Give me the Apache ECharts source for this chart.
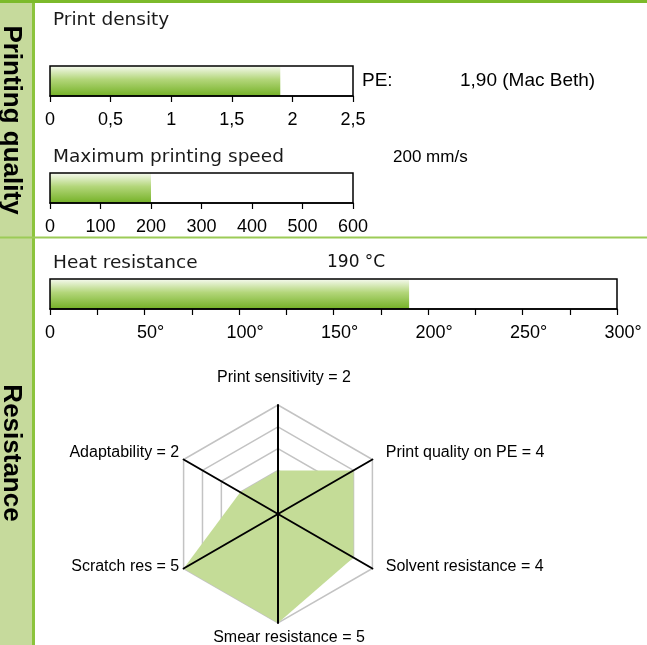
<!DOCTYPE html>
<html><head><meta charset="utf-8">
<script src="https://cdn.jsdelivr.net/npm/echarts@6/dist/echarts.min.js"></script>
<style>html,body{margin:0;padding:0;background:#fff}#c{width:647px;height:645px}</style>
</head><body><div id="c"></div>
<script>
// ---- data ----
const sectionLabels = ['Printing quality', 'Resistance'];
const barTitles = ['Print density', 'Maximum printing speed', 'Heat resistance'];
const barValues = [1.9, 200, 190];
const barMax = [2.5, 600, 300];
const barInterval = [0.5, 100, 25];
const barLabelStep = [0.5, 100, 50];
const barUnitSuffix = ['', '', '°'];
const densityPrefix = 'PE:';
const barNotes = ['1,90 (Mac Beth)', '200 mm/s', '190 °C'];
const radarCategories = ['Print sensitivity', 'Adaptability', 'Scratch res', 'Smear resistance', 'Solvent resistance', 'Print quality on PE'];
const radarValues = [2, 2, 5, 5, 4, 4];
const radarMax = 5;

// ---- layout ----
const gridBoxes = [
  {left: 50, top: 66, width: 303, height: 30},
  {left: 50, top: 173, width: 303, height: 30},
  {left: 50, top: 279, width: 567, height: 30}
];
const titleY = [20, 157, 263];
const green = '#8cc43c';
const labelFont = 'Liberation Sans, Arial, sans-serif';
const titleFont = 'DejaVu Sans, sans-serif';

const chart = echarts.init(document.getElementById('c'), null, {renderer: 'canvas'});

const barGradient = new echarts.graphic.LinearGradient(0, 0, 0, 1, [
  {offset: 0, color: '#f6faef'},
  {offset: 0.45, color: '#b3d67a'},
  {offset: 1, color: '#74b126'}
]);

function fmtTick(i) {
  return function (v) {
    const step = barLabelStep[i];
    if (Math.abs(v / step - Math.round(v / step)) > 1e-6) return '';
    if (v === 0) return '0';
    const s = String(+v.toFixed(2)).replace('.', ',');
    return barUnitSuffix[i] ? '{d|' + s + barUnitSuffix[i] + '}' : s;
  };
}

const grids = gridBoxes.map(g => Object.assign({
  show: true, borderColor: '#000', borderWidth: 1.5, backgroundColor: 'transparent', z: 3
}, g));

const xAxes = barValues.map((v, i) => ({
  type: 'value', gridIndex: i, min: 0, max: barMax[i], interval: barInterval[i],
  axisLine: {show: true, lineStyle: {color: '#000', width: 1.5}},
  axisTick: {show: true, length: 6, lineStyle: {color: '#000', width: 1.2}},
  splitLine: {show: false},
  axisLabel: {
    color: '#000', fontSize: 18, fontFamily: labelFont, margin: 15, formatter: fmtTick(i),
    rich: {d: {padding: [0, 0, 0, 12], color: '#000', fontSize: 18, fontFamily: labelFont}}
  },
  z: 3
}));
const yAxes = barValues.map((v, i) => ({
  type: 'category', gridIndex: i, data: [barTitles[i]], show: false
}));
const barSeries = barValues.map((v, i) => ({
  type: 'bar', xAxisIndex: i, yAxisIndex: i, data: [v], barWidth: '100%',
  itemStyle: {color: barGradient}, silent: true, z: 2
}));

const nameBase = {fontSize: 16, fontFamily: labelFont, color: '#000'};
const rich = {
  t: Object.assign({padding: [0, 0, 14, 12]}, nameBase),
  l: Object.assign({padding: [0, 0, 9, 0]}, nameBase),
  r: Object.assign({padding: [0, 0, 9, 9]}, nameBase),
  b: Object.assign({padding: [2, 0, 0, 22]}, nameBase)
};
const nameStyleKey = ['t', 'l', 'l', 'b', 'r', 'r'];

const graphics = [
  {type: 'rect', shape: {x: 0, y: 0, width: 32, height: 645}, style: {fill: '#c6da9c'}, z: 1},
  {type: 'rect', shape: {x: 32, y: 0, width: 3, height: 645}, style: {fill: green}, z: 2},
  {type: 'rect', shape: {x: 0, y: 0, width: 647, height: 3}, style: {fill: '#7cba2b'}, z: 2},
  {type: 'rect', shape: {x: 0, y: 236.5, width: 647, height: 2}, style: {fill: '#9ccb57'}, z: 2},
  {type: 'text', x: 11, y: 120, rotation: -Math.PI / 2, z: 3,
    style: {text: sectionLabels[0], font: 'bold 26px ' + labelFont, fill: '#000', align: 'center', verticalAlign: 'middle'}},
  {type: 'text', x: 11, y: 453, rotation: -Math.PI / 2, z: 3,
    style: {text: sectionLabels[1], font: 'bold 26px ' + labelFont, fill: '#000', align: 'center', verticalAlign: 'middle'}},
  {type: 'text', x: 362, y: 81, z: 3,
    style: {text: densityPrefix, font: '19px ' + labelFont, fill: '#000', align: 'left', verticalAlign: 'middle'}},
  {type: 'text', x: 460, y: 81, z: 3,
    style: {text: barNotes[0], font: '19px ' + labelFont, fill: '#000', align: 'left', verticalAlign: 'middle'}},
  {type: 'text', x: 393, y: 157, z: 3,
    style: {text: barNotes[1], font: '17px ' + labelFont, fill: '#000', align: 'left', verticalAlign: 'middle'}},
  {type: 'text', x: 327, y: 263, z: 3,
    style: {text: barNotes[2], font: '17px ' + titleFont, fill: '#111', align: 'left', verticalAlign: 'middle'}}
];
barTitles.forEach((t, i) => graphics.push({
  type: 'text', x: 53, y: titleY[i], z: 3,
  style: {text: t, font: '18.5px ' + titleFont, fill: '#1a1a1a', align: 'left', verticalAlign: 'middle'}
}));

const indicators = radarCategories.map(n => ({name: n, max: radarMax}));

const option = {
  animation: false,
  backgroundColor: '#fff',
  grid: grids,
  xAxis: xAxes,
  yAxis: yAxes,
  radar: [
    {
      z: 0, center: [278, 514], radius: 109, startAngle: 90, splitNumber: 5, shape: 'polygon',
      indicator: indicators, axisNameGap: 5, nameGap: 5,
      axisName: {
        color: '#000', fontSize: 16, fontFamily: labelFont,
        formatter: function (name) {
          const idx = radarCategories.indexOf(name);
          return '{' + nameStyleKey[idx] + '|' + name + ' = ' + radarValues[idx] + '}';
        },
        rich: rich
      },
      axisLine: {show: false},
      axisTick: {show: false},
      axisLabel: {show: false},
      splitLine: {lineStyle: {color: '#c3c3c3', width: 1.5}},
      splitArea: {show: false}
    },
    {
      z: 5, center: [278, 514], radius: 109, startAngle: 90, splitNumber: 5, shape: 'polygon',
      indicator: indicators,
      axisName: {show: false},
      axisLine: {show: true, lineStyle: {color: '#000', width: 2}},
      axisTick: {show: false},
      axisLabel: {show: false},
      splitLine: {show: false},
      splitArea: {show: false}
    }
  ],
  series: barSeries.concat([{
    type: 'radar', radarIndex: 0, symbol: 'none', silent: true, z: 2,
    lineStyle: {width: 0},
    areaStyle: {color: '#c4dc97', opacity: 1},
    data: [{value: radarValues, name: 'values'}]
  }]),
  graphic: graphics
};
chart.setOption(option);
</script>
</body></html>
